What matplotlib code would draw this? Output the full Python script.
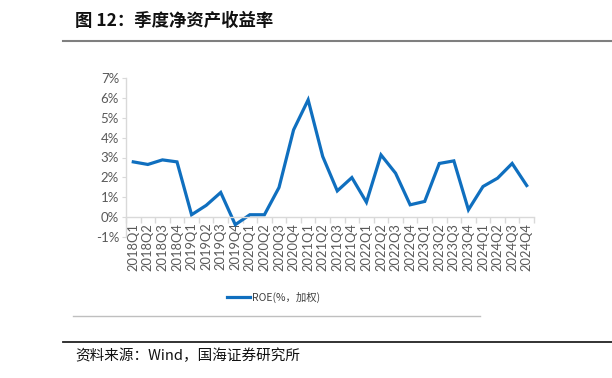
import matplotlib
matplotlib.use("Agg")
import matplotlib.pyplot as plt
from matplotlib.ticker import FuncFormatter, FixedLocator
import numpy as np

plt.rcParams['font.family'] = ['Noto Sans CJK SC', 'DejaVu Sans']

quarters = ["2018Q1", "2018Q2", "2018Q3", "2018Q4",
            "2019Q1", "2019Q2", "2019Q3", "2019Q4",
            "2020Q1", "2020Q2", "2020Q3", "2020Q4",
            "2021Q1", "2021Q2", "2021Q3", "2021Q4",
            "2022Q1", "2022Q2", "2022Q3", "2022Q4",
            "2023Q1", "2023Q2", "2023Q3", "2023Q4",
            "2024Q1", "2024Q2", "2024Q3", "2024Q4"]
roe = [2.78, 2.65, 2.88, 2.78,
       0.12, 0.59, 1.24, -0.38,
       0.12, 0.12, 1.49, 4.39,
       5.90, 3.05, 1.32, 1.99,
       0.75, 3.13, 2.21, 0.62,
       0.79, 2.70, 2.83, 0.37,
       1.54, 1.96, 2.70, 1.59]
series_name = "ROE(%，加权)"
yticks = [-1, 0, 1, 2, 3, 4, 5, 6, 7]
title = "图 12：季度净资产收益率"
source = "资料来源：Wind，国海证券研究所"

W, H = 612, 378
fig = plt.figure(figsize=(W / 100, H / 100), dpi=100)

ax = fig.add_axes([126 / W, 1 - 237 / H, (534 - 126) / W, (237 - 78) / H])
x = np.arange(len(quarters))
line, = ax.plot(x, roe, color='#0F6FBF', lw=2.3, solid_joinstyle='miter', label=series_name)
ax.set_xlim(-0.5, len(quarters) - 0.5)
ax.set_ylim(min(yticks), max(yticks))

tick_color = '#595959'
axis_color = '#D9D9D9'
for s in ['top', 'right']:
    ax.spines[s].set_visible(False)
ax.spines['left'].set_color(axis_color)
ax.spines['bottom'].set_color(axis_color)
ax.spines['bottom'].set_position(('data', 0))
ax.spines['left'].set_linewidth(1.0)
ax.spines['bottom'].set_linewidth(1.0)

ax.set_yticks(yticks)
ax.yaxis.set_major_formatter(FuncFormatter(lambda v, p: f"{int(v)}%"))
ax.tick_params(axis='y', length=3, color=axis_color, labelcolor=tick_color,
               labelsize=9.5, pad=2)
for t in ax.get_yticklabels():
    t.set_fontfamily(['Lato', 'DejaVu Sans'])

ax.set_xticks(x)
ax.set_xticklabels(quarters, rotation=90, fontfamily=['Lato', 'DejaVu Sans'])
ax.tick_params(axis='x', which='major', length=0, labelcolor=tick_color,
               labelsize=9.3, pad=4)
ax.xaxis.set_minor_locator(FixedLocator(np.arange(-0.5, len(quarters), 1.0)))
ax.tick_params(axis='x', which='minor', length=4, color=axis_color, width=1.0)

leg = fig.legend(handles=[line], loc='center', bbox_to_anchor=(274 / W, 1 - 297 / H),
                 frameon=False, fontsize=7.5, handlelength=2.2, handletextpad=0.2,
                 labelcolor='#404040')

fig.text(75 / W, 1 - 21 / H, title, fontsize=12.5, fontweight='bold',
         va='center', ha='left', color='#111111')
fig.add_artist(plt.Line2D([63 / W, 1], [1 - 40.5 / H] * 2, color='#7F7F7F', lw=1.5))
fig.add_artist(plt.Line2D([73 / W, 480 / W], [1 - 316 / H] * 2, color='#BFBFBF', lw=1.0))
fig.add_artist(plt.Line2D([63 / W, 1], [1 - 342 / H] * 2, color='#222222', lw=1.3))
fig.text(75 / W, 1 - 356 / H, source, fontsize=10.5, va='center', ha='left', color='#111111')

fig.savefig("out.png", dpi=100)
